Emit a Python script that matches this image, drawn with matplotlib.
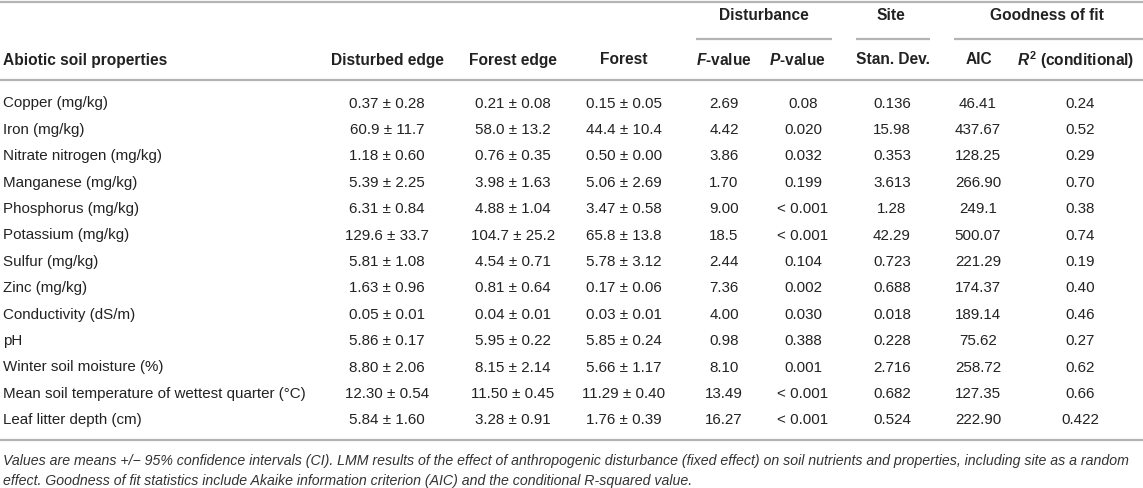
import matplotlib
matplotlib.use('Agg')
import matplotlib.pyplot as plt

plt.rcParams['font.family'] = ['Liberation Sans', 'DejaVu Sans']
plt.rcParams['mathtext.fontset'] = 'custom'
plt.rcParams['mathtext.it'] = 'Liberation Sans:italic:bold'
plt.rcParams['mathtext.rm'] = 'Liberation Sans:bold'
plt.rcParams['mathtext.bf'] = 'Liberation Sans:bold'

properties = ['Copper (mg/kg)', 'Iron (mg/kg)', 'Nitrate nitrogen (mg/kg)', 'Manganese (mg/kg)',
              'Phosphorus (mg/kg)', 'Potassium (mg/kg)', 'Sulfur (mg/kg)', 'Zinc (mg/kg)',
              'Conductivity (dS/m)', 'pH', 'Winter soil moisture (%)',
              'Mean soil temperature of wettest quarter (°C)', 'Leaf litter depth (cm)']
disturbed_edge = ['0.37 ± 0.28', '60.9 ± 11.7', '1.18 ± 0.60', '5.39 ± 2.25', '6.31 ± 0.84',
                  '129.6 ± 33.7', '5.81 ± 1.08', '1.63 ± 0.96', '0.05 ± 0.01', '5.86 ± 0.17',
                  '8.80 ± 2.06', '12.30 ± 0.54', '5.84 ± 1.60']
forest_edge = ['0.21 ± 0.08', '58.0 ± 13.2', '0.76 ± 0.35', '3.98 ± 1.63', '4.88 ± 1.04',
               '104.7 ± 25.2', '4.54 ± 0.71', '0.81 ± 0.64', '0.04 ± 0.01', '5.95 ± 0.22',
               '8.15 ± 2.14', '11.50 ± 0.45', '3.28 ± 0.91']
forest = ['0.15 ± 0.05', '44.4 ± 10.4', '0.50 ± 0.00', '5.06 ± 2.69', '3.47 ± 0.58',
          '65.8 ± 13.8', '5.78 ± 3.12', '0.17 ± 0.06', '0.03 ± 0.01', '5.85 ± 0.24',
          '5.66 ± 1.17', '11.29 ± 0.40', '1.76 ± 0.39']
f_value = ['2.69', '4.42', '3.86', '1.70', '9.00', '18.5', '2.44', '7.36', '4.00', '0.98',
           '8.10', '13.49', '16.27']
p_value = ['0.08', '0.020', '0.032', '0.199', '< 0.001', '< 0.001', '0.104', '0.002', '0.030',
           '0.388', '0.001', '< 0.001', '< 0.001']
site_sd = ['0.136', '15.98', '0.353', '3.613', '1.28', '42.29', '0.723', '0.688', '0.018',
           '0.228', '2.716', '0.682', '0.524']
aic = ['46.41', '437.67', '128.25', '266.90', '249.1', '500.07', '221.29', '174.37', '189.14',
       '75.62', '258.72', '127.35', '222.90']
r2 = ['0.24', '0.52', '0.29', '0.70', '0.38', '0.74', '0.19', '0.40', '0.46', '0.27', '0.62',
      '0.66', '0.422']

headers = ['Disturbed edge', 'Forest edge', 'Forest', '$\\mathit{F}$-value', '$\\mathit{P}$-value',
           'Stan. Dev.', 'AIC', '$\\mathit{R}^{2}$ (conditional)']
groups = ['Disturbance', 'Site', 'Goodness of fit']
footnote = ['Values are means +/\u2212 95% confidence intervals (CI). LMM results of the effect of anthropogenic '
            'disturbance (fixed effect) on soil nutrients and properties, including site as a random',
            'effect. Goodness of fit statistics include Akaike information criterion (AIC) and the '
            'conditional R-squared value.']

W, H = 1143, 489
fig = plt.figure(figsize=(W / 100, H / 100), dpi=100)
ax = fig.add_axes([0, 0, 1, 1])
ax.set_xlim(0, W)
ax.set_ylim(H, 0)
ax.axis('off')

txt = '#222222'
line_c = '#b4b4b4'
fs = 10.9
hfs = 11.2

col_x = [387, 513, 624, 724, 803, 892, 978, 1080]
head_x = [387, 513, 624, 724, 797, 893, 979, 1076]
columns = [disturbed_edge, forest_edge, forest, f_value, p_value, site_sd, aic, r2]

# rules
for y in [3, 81, 441]:
    ax.plot([0, W], [y, y], color=line_c, lw=1.6, solid_capstyle='butt')
for x0, x1 in [(696, 832), (856, 930), (954, W)]:
    ax.plot([x0, x1], [40, 40], color=line_c, lw=1.6, solid_capstyle='butt')

# group headers
for g, x in zip(groups, [764, 891, 1047]):
    ax.text(x, 16, g, ha='center', va='center', fontsize=hfs, fontweight='bold', color=txt)

ax.text(3, 60, 'Abiotic soil properties', ha='left', va='center', fontsize=hfs,
        fontweight='bold', color=txt)
for h, x in zip(headers, head_x):
    ax.text(x, 60, h, ha='center', va='center', fontsize=hfs, fontweight='bold', color=txt)

row_y0, row_dy = 103.5, 26.4
for i, prop in enumerate(properties):
    y = row_y0 + i * row_dy
    ax.text(3, y, prop, ha='left', va='center', fontsize=fs, color=txt)
    for col, x in zip(columns, col_x):
        ax.text(x, y, col[i], ha='center', va='center', fontsize=fs, color=txt)

for k, line in enumerate(footnote):
    ax.text(3, 461 + k * 19.5, line, ha='left', va='center', fontsize=10.15,
            style='italic', color='#333333')

fig.savefig('out.png', dpi=100)
